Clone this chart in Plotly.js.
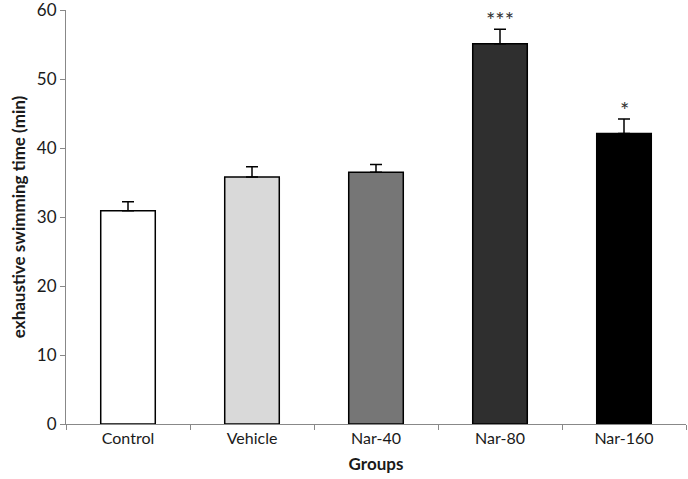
<!DOCTYPE html>
<html><head><meta charset="utf-8">
<script src="https://cdn.plot.ly/plotly-3.0.1.min.js"></script>
<style>body{margin:0;background:#fff}#c{width:688px;height:479px}</style>
</head><body><div id="c"></div>
<script>
const groups = ["Control", "Vehicle", "Nar-40", "Nar-80", "Nar-160"];
const means = [30.9, 35.8, 36.5, 55.1, 42.1];
const sem = [1.3, 1.5, 1.1, 2.1, 2.1];
const barColors = ["#ffffff", "#d9d9d9", "#767676", "#2f2f2f", "#000000"];
const signif = ["", "", "", "***", "*"];

const trace = {
  type: "bar", x: groups, y: means,
  marker: {color: barColors, line: {color: "#000", width: 1.5}},
  width: 0.44,
  error_y: {type: "data", symmetric: false, array: sem, arrayminus: sem.map(() => 0),
            color: "#000", thickness: 1.5, width: 6}
};
const annotations = groups.map((g, i) => ({
  x: g, y: means[i] + sem[i], text: signif[i], showarrow: false,
  yanchor: "bottom", yshift: -6, font: {family: "Lato, Open Sans, sans-serif", size: 22, color: "#333"}
})).filter(a => a.text);

const layout = {
  width: 688, height: 479,
  margin: {l: 66, r: 2, t: 10, b: 55},
  paper_bgcolor: "#fff", plot_bgcolor: "#fff",
  showlegend: false,
  font: {family: "Lato, Open Sans, sans-serif", size: 17, color: "#1a1a1a"},
  xaxis: {
    showline: true, linecolor: "#888", linewidth: 1,
    ticks: "outside", ticklen: 5, tickcolor: "#888", tickson: "boundaries",
    showgrid: false, tickfont: {size: 16},
    title: {text: "<b>Groups</b>", font: {size: 17}, standoff: 11}
  },
  yaxis: {
    range: [0, 60], dtick: 10, showline: true, linecolor: "#888", linewidth: 1,
    ticks: "outside", ticklen: 5, tickcolor: "#888", showgrid: false, zeroline: false,
    tickfont: {size: 17}, ticklabeloverflow: "allow",
    title: {text: "<b>exhaustive swimming time (min)</b>", font: {size: 17}, standoff: 6}
  },
  annotations: annotations
};
Plotly.newPlot("c", [trace], layout, {displayModeBar: false, staticPlot: true});
</script></body></html>
